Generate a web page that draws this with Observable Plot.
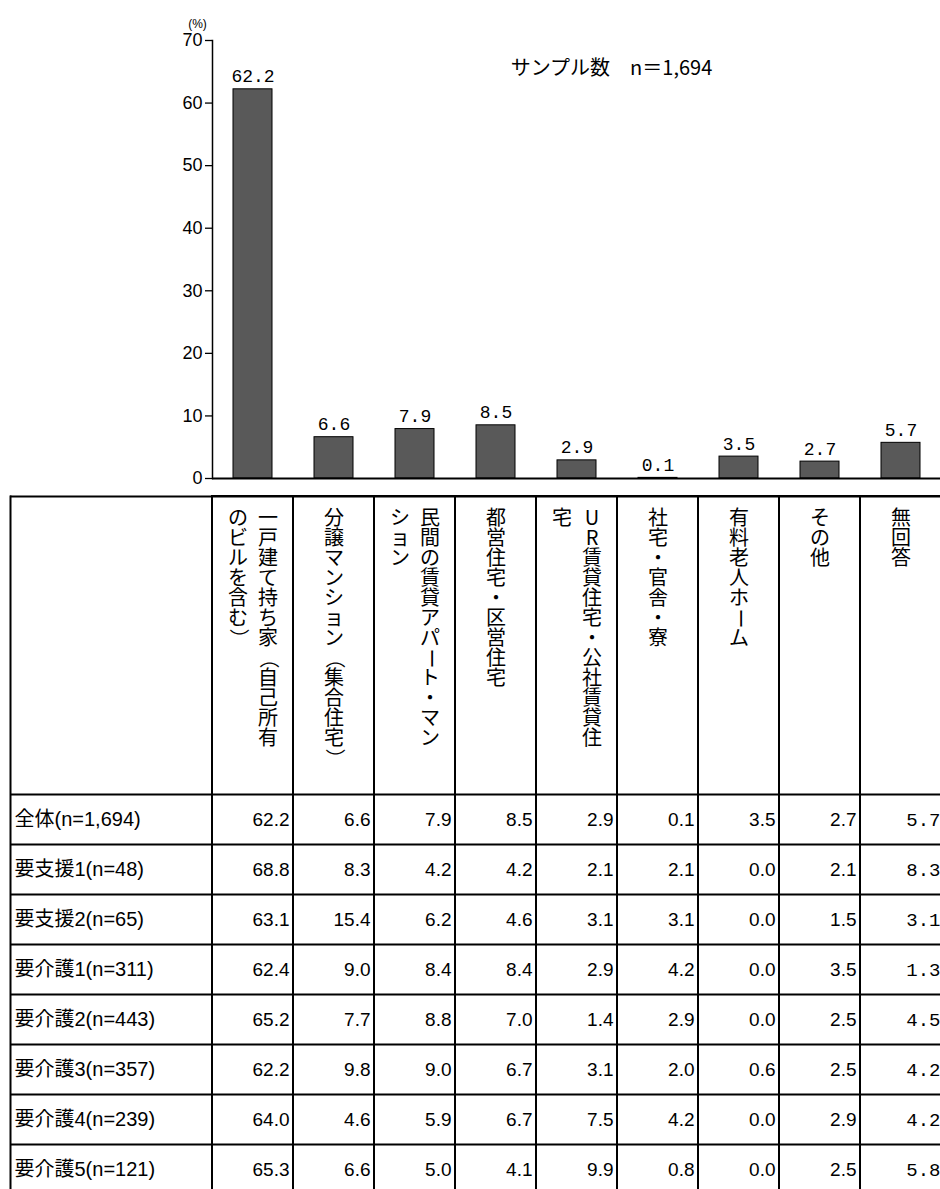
<!DOCTYPE html>
<html><head><meta charset="utf-8">
<script src="https://cdn.jsdelivr.net/npm/d3@7"></script>
<script src="https://cdn.jsdelivr.net/npm/@observablehq/plot@0.6"></script>
<style>
html,body{margin:0;padding:0;background:#fff;overflow:hidden;width:940px;height:1189px;}
#chart,#table{width:940px;overflow:hidden;}
#chart{height:495px}
#table{height:694px}
svg{display:block;max-width:none !important;}
</style></head><body>
<div id="chart"></div><div id="table"></div>
<script>
// ---- data ----
const headerLines = [
  ["一戸建て持ち家（自己所有", "のビルを含む）"],
  ["分譲マンション（集合住宅）"],
  ["民間の賃貸アパート・マン", "ション"],
  ["都営住宅・区営住宅"],
  ["UR賃貸住宅・公社賃貸住", "宅"],
  ["社宅・官舎・寮"],
  ["有料老人ホーム"],
  ["その他"],
  ["無回答"]
];
const categories = headerLines.map(l => l.join(""));
const totalValues = [62.2, 6.6, 7.9, 8.5, 2.9, 0.1, 3.5, 2.7, 5.7];
const yTicks = [0, 10, 20, 30, 40, 50, 60, 70];
const yUnit = "(%)";
const sampleNote = "サンプル数　n＝1,694";
const rowLabels = ["全体(n=1,694)", "要支援1(n=48)", "要支援2(n=65)", "要介護1(n=311)",
  "要介護2(n=443)", "要介護3(n=357)", "要介護4(n=239)", "要介護5(n=121)"];
const rowValues = [
  [62.2, 6.6, 7.9, 8.5, 2.9, 0.1, 3.5, 2.7, 5.7],
  [68.8, 8.3, 4.2, 4.2, 2.1, 2.1, 0.0, 2.1, 8.3],
  [63.1, 15.4, 6.2, 4.6, 3.1, 3.1, 0.0, 1.5, 3.1],
  [62.4, 9.0, 8.4, 8.4, 2.9, 4.2, 0.0, 3.5, 1.3],
  [65.2, 7.7, 8.8, 7.0, 1.4, 2.9, 0.0, 2.5, 4.5],
  [62.2, 9.8, 9.0, 6.7, 3.1, 2.0, 0.6, 2.5, 4.2],
  [64.0, 4.6, 5.9, 6.7, 7.5, 4.2, 0.0, 2.9, 4.2],
  [65.3, 6.6, 5.0, 4.1, 9.9, 0.8, 0.0, 2.5, 5.8]
];

// ---- layout ----
const W = 940, X0 = 212, X1 = 941;
const step = (X1 - X0) / categories.length;
const sans = "'Liberation Sans', Arial, 'Noto Sans CJK JP', sans-serif";
const mono = "'Liberation Mono', 'DejaVu Sans Mono', monospace";
const cjk = "'Noto Sans CJK JP', sans-serif";

const bars = categories.map((c, i) => ({cat: c, value: totalValues[i]}));

const chart = Plot.plot({
  width: W, height: 495,
  marginLeft: X0, marginRight: 0, marginTop: 40, marginBottom: 17,
  style: {fontFamily: sans, color: "#000", background: "#fff"},
  x: {type: "band", domain: categories, range: [X0, X1], paddingInner: 0.52, paddingOuter: 0.26, axis: null},
  y: {domain: [0, 70], axis: null},
  marks: [
    Plot.barY(bars, {x: "cat", y: "value", fill: "#595959", stroke: "#000", strokeWidth: 1}),
    Plot.text(bars, {x: "cat", y: "value", text: d => d.value.toFixed(1), lineAnchor: "bottom", dy: -7,
      fontFamily: mono, fontSize: 18}),
    Plot.ruleY([0], {stroke: "#000", strokeWidth: 2}),
    Plot.axisY({ticks: yTicks, tickSize: 7, tickPadding: 3, label: null, fontSize: 18, strokeWidth: 1.3}),
    Plot.frame({anchor: "left", strokeWidth: 1.5}),
    Plot.text([yUnit], {text: d => d, frameAnchor: "top-left", dx: -15, dy: -21, fontSize: 12, textAnchor: "middle", fill: "#000"}),
    Plot.text([sampleNote], {text: d => d, frameAnchor: "top", dx: 35, dy: 20, fontSize: 20, fontFamily: cjk, fill: "#000"})
  ]
});
document.getElementById("chart").append(chart);

// ---- table ----
const headerUnits = 5.96, nRows = rowLabels.length, rowPx = 50;
const charPx = 20, headPad = 12, lineGap = 15;
const cells = [];
rowLabels.forEach((r, i) => categories.forEach((c, j) =>
  cells.push({row: i, cat: c, value: rowValues[i][j], last: j === categories.length - 1})));
// header characters, stacked top-to-bottom (vertical writing), lines right-to-left
const headChars = [];
headerLines.forEach((lines, j) => lines.forEach((line, l) => Array.from(line).forEach((ch, k) =>
  headChars.push({cat: categories[j], ch, k, group: lines.length === 1 ? 0 : (l === 0 ? 1 : -1)}))));
const charY = d => -headerUnits + (headPad + (d.k + 0.5) * charPx) / rowPx;
const rotated = "ー（）";
const hlines = [-headerUnits].concat(d3.range(0, nRows + 1));

const headMark = g => Plot.text(headChars.filter(d => d.group === g), {
  x: "cat", y: charY, text: "ch", dx: g * lineGap,
  rotate: d => rotated.includes(d.ch) ? 90 : 0,
  fontSize: charPx, fontFamily: cjk, fill: "#000"
});

const table = Plot.plot({
  width: W, height: 694,
  marginLeft: 10, marginRight: 0, marginTop: 1, marginBottom: 0,
  style: {fontFamily: sans, color: "#000", background: "#fff"},
  x: {type: "band", domain: categories, range: [X0, X1], padding: 0, axis: null},
  y: {domain: [-headerUnits, nRows], range: [1, 1 + (headerUnits + nRows) * rowPx], axis: null},
  marks: [
    Plot.barY(categories, {x: d => d, y1: -headerUnits, y2: nRows, fill: "none", stroke: "#000", strokeWidth: 2}),
    Plot.ruleY(hlines, {stroke: "#000", strokeWidth: 2}),
    Plot.frame({anchor: "left", stroke: "#000", strokeWidth: 2}),
    headMark(0), headMark(1), headMark(-1),
    Plot.text(rowLabels, {y: (d, i) => i + 0.5, text: d => d, frameAnchor: "left", textAnchor: "start", dx: 4, fontSize: 20, fill: "#000"}),
    Plot.text(cells.filter(d => !d.last), {x: "cat", y: d => d.row + 0.5, text: d => d.value.toFixed(1),
      textAnchor: "end", dx: step / 2 - 4, fontSize: 19, fill: "#000"}),
    Plot.text(cells.filter(d => d.last), {x: "cat", y: d => d.row + 0.5, text: d => d.value.toFixed(1),
      textAnchor: "end", dx: step / 2 - 1, fontSize: 19, fontFamily: mono, fill: "#000"})
  ]
});
document.getElementById("table").append(table);
</script>
</body></html>
